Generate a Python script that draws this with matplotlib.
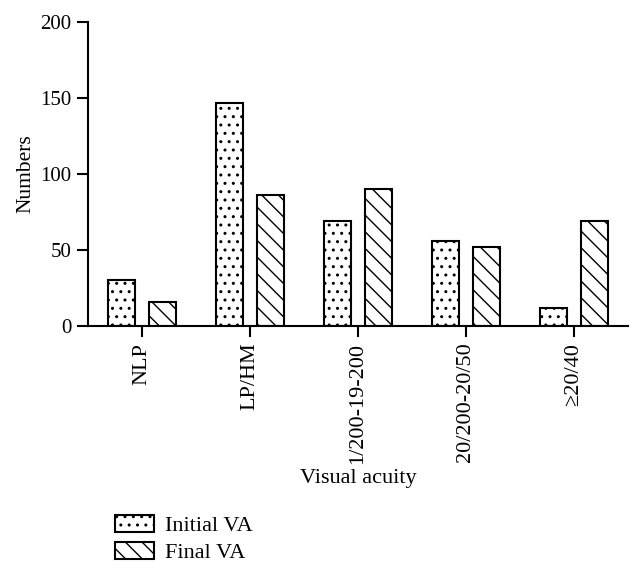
import matplotlib
matplotlib.use("Agg")
import matplotlib.pyplot as plt
import numpy as np

# values
categories = ["NLP", "LP/HM", "1/200-19-200", "20/200-20/50", "≥20/40"]
initial_va = [30, 147, 69, 56, 12]
final_va = [16, 86, 90, 52, 69]

plt.rcParams['font.family'] = ['Liberation Serif', 'DejaVu Serif']
plt.rcParams['hatch.linewidth'] = 1.0
plt.rcParams['font.size'] = 16

fig = plt.figure(figsize=(6.42, 5.77), dpi=100)
ax = fig.add_axes([0.137, 0.435, 0.841, 0.527])

x = np.arange(len(categories))
w = 0.25
ax.bar(x - 0.19, initial_va, w, facecolor='white', edgecolor='black',
       linewidth=1.5, hatch='..', label='Initial VA')
ax.bar(x + 0.19, final_va, w, facecolor='white', edgecolor='black',
       linewidth=1.5, hatch='\\\\', label='Final VA')

ax.set_xlim(-0.5, 4.5)
ax.set_ylim(0, 200)
ax.set_yticks([0, 50, 100, 150, 200])
ax.set_xticks(x)
ax.set_xticklabels(categories, rotation=90)

for side in ['top', 'right']:
    ax.spines[side].set_visible(False)
for side in ['left', 'bottom']:
    ax.spines[side].set_linewidth(1.5)
ax.tick_params(direction='out', length=8, width=1.5, labelsize=16, pad=4)
ax.tick_params(axis='y', labelsize=15)

ax.set_ylabel('Numbers', fontsize=15.5, labelpad=3)
ax.set_xlabel('Visual acuity', fontsize=16, labelpad=4)

fig.legend(loc='lower left', bbox_to_anchor=(0.148, -0.01), frameon=False,
           fontsize=16, handlelength=1.75, handleheight=0.8, labelspacing=0.25,
           handletextpad=0.5)

fig.savefig('out.png', dpi=100)
